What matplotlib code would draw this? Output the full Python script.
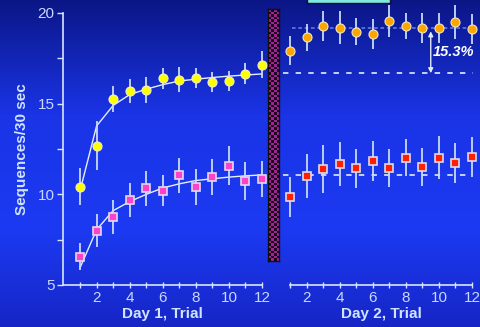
import numpy as np
import matplotlib
matplotlib.use("Agg")
import matplotlib.pyplot as plt
from matplotlib.colors import LinearSegmentedColormap

plt.rcParams['font.family'] = ['Liberation Sans', 'DejaVu Sans']

trials = np.arange(1, 13)

# Day 1
d1_yellow = [10.43, 12.69, 15.24, 15.70, 15.76, 16.40, 16.33, 16.44, 16.20, 16.24, 16.66, 17.14]
d1_yellow_err = [1.03, 1.36, 0.72, 0.65, 0.72, 0.58, 0.67, 0.55, 0.54, 0.54, 0.56, 0.74]
d1_yellow_fit = [10.2, 13.77, 14.9, 15.5, 15.8, 16.05, 16.25, 16.35, 16.44, 16.52, 16.58, 16.64]
d1_pink = [6.57, 7.99, 8.74, 9.70, 10.34, 10.21, 11.04, 10.41, 10.95, 11.57, 10.74, 10.84]
d1_pink_err = [0.77, 0.92, 0.92, 0.94, 0.96, 0.83, 0.96, 1.0, 0.98, 1.08, 1.03, 1.0]
d1_pink_fit = [5.95, 8.05, 9.1, 9.6, 10.0, 10.35, 10.58, 10.76, 10.86, 10.95, 11.02, 11.07]

# Day 2
d2_orange = [17.91, 18.66, 19.28, 19.19, 18.97, 18.86, 19.54, 19.28, 19.17, 19.17, 19.50, 19.12]
d2_orange_err = [0.80, 0.75, 0.83, 0.90, 0.73, 0.83, 0.89, 0.72, 0.81, 0.83, 0.95, 0.81]
d2_red = [9.85, 11.02, 11.40, 11.66, 11.44, 11.85, 11.44, 12.03, 11.52, 12.01, 11.72, 12.08]
d2_red_err = [1.08, 1.2, 1.3, 1.2, 1.07, 1.1, 1.04, 1.03, 1.06, 1.18, 1.12, 1.1]

orange_level = 19.19
day1_level = 16.68
red_level = 11.09
gain_label = "15.3%"

W, H = 481, 327
fig = plt.figure(figsize=(W / 100, H / 100), dpi=100)

# background gradient
bg = fig.add_axes([0, 0, 1, 1], zorder=-10)
cmap = LinearSegmentedColormap.from_list(
    "bg", [(0, "#1626c6"), (0.3, "#1c3af2"), (0.65, "#1a34e6"), (1, "#0b1686")])
bg.imshow(np.linspace(0, 1, 256).reshape(-1, 1), aspect="auto", cmap=cmap,
          extent=[0, 1, 0, 1])
bg.set_xlim(0, 1)
bg.set_ylim(1, 0)
bg.axis("off")

fg = "#c8d8ff"
line_c = "#d8e4ff"


def fx(px):
    return px / W


def fy(py):
    return 1 - py / H


ax1 = fig.add_axes([fx(63), fy(285), fx(262) - fx(63), fy(13) - fy(285)])
ax2 = fig.add_axes([fx(290), fy(285), fx(472) - fx(290), fy(13) - fy(285)])

for ax in (ax1, ax2):
    ax.patch.set_alpha(0)
    ax.set_ylim(5, 20)
    for s in ("top", "right"):
        ax.spines[s].set_visible(False)
    ax.spines["bottom"].set_color(line_c)
    ax.spines["left"].set_color(line_c)
    ax.spines["bottom"].set_linewidth(1.2)
    ax.spines["left"].set_linewidth(1.2)
    ax.set_xticks(trials)
    ax.set_xticklabels([str(t) if t % 2 == 0 else "" for t in trials])
    ax.tick_params(axis="x", direction="inout", length=5, width=1, colors=line_c,
                   labelcolor=fg, labelsize=11, pad=2)
    ax.set_xlabel(ax is ax1 and "Day 1, Trial" or "Day 2, Trial",
                  color="#d0e4ff", fontsize=11, fontweight="bold", labelpad=1)

ax1.set_xlim(-0.03, 12)
ax1.set_yticks([5, 7.5, 10, 12.5, 15, 17.5, 20])
ax1.set_yticklabels(["5", "", "10", "", "15", "", "20"])
ax1.tick_params(axis="y", direction="out", length=4, width=1, colors=line_c,
                labelcolor=fg, labelsize=11, pad=2)
ax1.set_ylabel("Sequences/30 sec", color="#d0e4ff", fontsize=11,
               fontweight="bold", labelpad=6)

ax2.set_xlim(0.97, 12)
ax2.spines["left"].set_visible(False)
ax2.tick_params(axis="y", left=False, labelleft=False)

eb = dict(fmt="none", ecolor="#c8d8ff", elinewidth=1.3, capsize=0, zorder=3)

# Day 1
ax1.plot(trials, d1_yellow_fit, color="#e8eeff", lw=1, zorder=2, clip_on=False)
ax1.plot(trials, d1_pink_fit, color="#e8eeff", lw=1, zorder=2, clip_on=False)
e = ax1.errorbar(trials, d1_yellow, yerr=d1_yellow_err, **eb)
for a in e.lines[2]:
    a.set_clip_on(False)
e = ax1.errorbar(trials, d1_pink, yerr=d1_pink_err, **eb)
for a in e.lines[2]:
    a.set_clip_on(False)
ax1.plot(trials, d1_yellow, "o", ms=6.5, mfc="#ffff00", mec="#f0f0c0", mew=0.8,
         ls="none", zorder=4, clip_on=False)
ax1.plot(trials, d1_pink, "s", ms=6, mfc="#ff40c8", mec="#e0d8f0", mew=1.2,
         ls="none", zorder=4, clip_on=False)

# Day 2
ax2.plot([0.52, 12.05], [day1_level] * 2, color="#d0e0ff", lw=1.3,
         ls=(0, (3, 4)), clip_on=False, zorder=2)
ax2.plot([1.1, 12.05], [orange_level] * 2, color="#5a72e0", lw=1.3,
         ls=(0, (2, 1.5)), clip_on=False, zorder=2)
ax2.plot([0.55, 12.05], [red_level] * 2, color="#d0e0ff", lw=1.3,
         ls=(0, (3, 4)), clip_on=False, zorder=2)
e = ax2.errorbar(trials, d2_orange, yerr=d2_orange_err, **eb)
for a in e.lines[2]:
    a.set_clip_on(False)
e = ax2.errorbar(trials, d2_red, yerr=d2_red_err, **eb)
for a in e.lines[2]:
    a.set_clip_on(False)
ax2.plot(trials, d2_orange, "o", ms=6.5, mfc="#ffa500", mec="#f0e8c0", mew=0.8,
         ls="none", zorder=4, clip_on=False)
ax2.plot(trials, d2_red, "s", ms=6, mfc="#ff2000", mec="#e0d8f0", mew=1.2,
         ls="none", zorder=4, clip_on=False)

ax2.annotate("", xy=(9.5, orange_level - 0.2), xytext=(9.5, day1_level),
             arrowprops=dict(arrowstyle="<|-|>", color="#e0eaff", lw=1,
                             mutation_scale=7, shrinkA=0, shrinkB=0), zorder=5)
ax2.text(9.6, 17.85, gain_label, color="white",
         fontsize=10.5, fontweight="bold", style="italic", va="center", ha="left")

# checkered separator bar
sep = fig.add_axes([fx(268), fy(261), fx(279.5) - fx(268), fy(9) - fy(261)], zorder=3)
nx, ny = 4, 100
chk = (np.add.outer(np.arange(ny), np.arange(nx)) % 2).astype(float)
sep.imshow(chk, aspect="auto", interpolation="nearest",
           cmap=LinearSegmentedColormap.from_list("chk", ["#a02498", "#1a0818"]))
sep.set_xticks([])
sep.set_yticks([])
for s in sep.spines.values():
    s.set_color("#101010")
    s.set_linewidth(1)

# partial box at top
box = fig.add_axes([fx(307), fy(2.5), fx(390) - fx(307), fy(-10) - fy(2.5)], zorder=3)
box.set_facecolor("#80e8e0")
box.set_xticks([])
box.set_yticks([])
for s in box.spines.values():
    s.set_color("#101030")
    s.set_linewidth(1)

fig.savefig("out.png", dpi=100)
